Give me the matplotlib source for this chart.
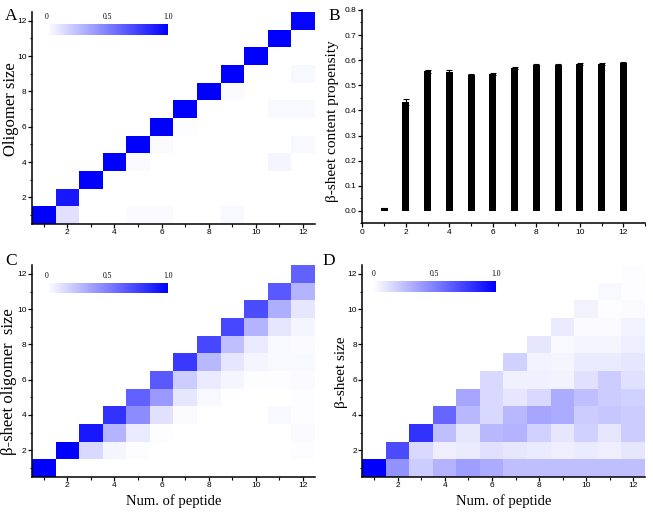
import numpy as np
import matplotlib
matplotlib.use("Agg")
import matplotlib.pyplot as plt
from matplotlib.colors import LinearSegmentedColormap
from matplotlib.ticker import MultipleLocator

# peptide counts (x) and sizes (y) for the heat maps
peptides = list(range(1, 13))
sizes = list(range(1, 13))

# rows: size 1..12, columns: num. of peptide 1..12
oligomer = [
    [1.00, 0.12, 0, 0, 0.02, 0.02, 0, 0, 0.03, 0, 0, 0],
    [0, 0.90, 0, 0, 0, 0, 0, 0, 0, 0, 0, 0],
    [0, 0, 1.00, 0, 0, 0, 0, 0, 0, 0, 0, 0],
    [0, 0, 0, 1.00, 0.02, 0, 0, 0, 0, 0, 0.04, 0],
    [0, 0, 0, 0, 1.00, 0.02, 0, 0, 0, 0, 0, 0.03],
    [0, 0, 0, 0, 0, 1.00, 0.01, 0, 0, 0, 0, 0],
    [0, 0, 0, 0, 0, 0, 1.00, 0, 0, 0, 0.03, 0.03],
    [0, 0, 0, 0, 0, 0, 0, 1.00, 0.02, 0, 0, 0],
    [0, 0, 0, 0, 0, 0, 0, 0, 1.00, 0, 0, 0.03],
    [0, 0, 0, 0, 0, 0, 0, 0, 0, 1.00, 0, 0],
    [0, 0, 0, 0, 0, 0, 0, 0, 0, 0, 1.00, 0],
    [0, 0, 0, 0, 0, 0, 0, 0, 0, 0, 0, 0.98],
]

sheet_oligomer = [
    [1.00, 0, 0, 0, 0, 0, 0, 0, 0, 0, 0, 0],
    [0, 1.00, 0.15, 0.04, 0.01, 0, 0, 0, 0, 0, 0, 0.01],
    [0, 0, 0.90, 0.30, 0.08, 0.01, 0, 0, 0, 0, 0, 0.02],
    [0, 0, 0, 0.80, 0.45, 0.12, 0.02, 0, 0, 0, 0.03, 0.01],
    [0, 0, 0, 0, 0.62, 0.40, 0.10, 0.03, 0, 0, 0, 0.01],
    [0, 0, 0, 0, 0, 0.65, 0.20, 0.08, 0.04, 0.01, 0.01, 0.02],
    [0, 0, 0, 0, 0, 0, 0.78, 0.28, 0.10, 0.04, 0.03, 0.03],
    [0, 0, 0, 0, 0, 0, 0, 0.72, 0.25, 0.08, 0.03, 0.02],
    [0, 0, 0, 0, 0, 0, 0, 0, 0.72, 0.30, 0.10, 0.04],
    [0, 0, 0, 0, 0, 0, 0, 0, 0, 0.70, 0.32, 0.10],
    [0, 0, 0, 0, 0, 0, 0, 0, 0, 0, 0.65, 0.30],
    [0, 0, 0, 0, 0, 0, 0, 0, 0, 0, 0, 0.62],
]

sheet_size = [
    [1.00, 0.42, 0.20, 0.30, 0.38, 0.33, 0.25, 0.25, 0.25, 0.25, 0.25, 0.25],
    [0, 0.70, 0.15, 0.07, 0.08, 0.12, 0.10, 0.08, 0.07, 0.08, 0.07, 0.10],
    [0, 0, 0.80, 0.25, 0.10, 0.28, 0.30, 0.18, 0.10, 0.18, 0.10, 0.20],
    [0, 0, 0, 0.60, 0.28, 0.15, 0.28, 0.35, 0.33, 0.20, 0.22, 0.20],
    [0, 0, 0, 0, 0.35, 0.15, 0.10, 0.15, 0.33, 0.25, 0.20, 0.18],
    [0, 0, 0, 0, 0, 0.15, 0.06, 0.06, 0.05, 0.12, 0.20, 0.12],
    [0, 0, 0, 0, 0, 0, 0.18, 0.05, 0.04, 0.08, 0.08, 0.10],
    [0, 0, 0, 0, 0, 0, 0, 0.10, 0.03, 0.04, 0.04, 0.07],
    [0, 0, 0, 0, 0, 0, 0, 0, 0.08, 0.02, 0.02, 0.05],
    [0, 0, 0, 0, 0, 0, 0, 0, 0, 0.05, 0.01, 0.02],
    [0, 0, 0, 0, 0, 0, 0, 0, 0, 0, 0.03, 0.01],
    [0, 0, 0, 0, 0, 0, 0, 0, 0, 0, 0, 0.01],
]

# panel B
bar_x = list(range(1, 13))
propensity = [0.010, 0.435, 0.555, 0.553, 0.540, 0.545, 0.570, 0.580, 0.581, 0.583, 0.585, 0.588]
prop_err = [0.002, 0.012, 0.005, 0.008, 0.005, 0.005, 0.004, 0.004, 0.004, 0.004, 0.003, 0.003]

serif = "Liberation Serif"
sans = "Liberation Sans"
blues = LinearSegmentedColormap.from_list("wb", ["#ffffff", "#0000ff"])

W, H = 653, 522
fig = plt.figure(figsize=(W / 100, H / 100), dpi=100)


def style_axes(ax):
    for s in ["top", "right"]:
        ax.spines[s].set_visible(False)
    for s in ["left", "bottom"]:
        ax.spines[s].set_linewidth(1.1)
    ax.tick_params(which="major", direction="out", length=3, width=0.9, labelsize=6, pad=1)
    ax.tick_params(which="minor", direction="out", length=1.8, width=0.8)
    for lab in ax.get_xticklabels() + ax.get_yticklabels():
        lab.set_fontfamily(sans)


def letter(x, y, s):
    # x, y in pixels from top-left, y is the baseline
    fig.text(x / W, 1 - y / H, s, fontfamily=serif, fontsize=12.5, ha="left", va="baseline")


def heatmap(rect, data, ylabel, ysize, ypos, xlabel, cb_rect):
    ax = fig.add_axes(rect)
    im = ax.imshow(np.array(data), cmap=blues, vmin=0, vmax=1, origin="lower",
                   extent=(peptides[0] - 0.5, peptides[-1] + 0.5, sizes[0] - 0.5, sizes[-1] + 0.5),
                   aspect="auto", interpolation="nearest")
    ax.set_xlim(0.5, 12.5)
    ax.set_ylim(0.5, 12.5)
    ax.xaxis.set_major_locator(MultipleLocator(2))
    ax.xaxis.set_minor_locator(MultipleLocator(1))
    ax.yaxis.set_major_locator(MultipleLocator(2))
    ax.yaxis.set_minor_locator(MultipleLocator(1))
    style_axes(ax)
    ax.set_ylabel(ylabel, fontfamily=serif, fontsize=ysize, va="center")
    ax.yaxis.set_label_coords(*ypos)
    if xlabel:
        ax.set_xlabel(xlabel, fontfamily=serif, fontsize=10.5, labelpad=4)
    cax = ax.inset_axes(cb_rect)
    cb = fig.colorbar(im, cax=cax, orientation="horizontal", ticks=[0, 0.5, 1.0])
    cb.outline.set_visible(False)
    cax.xaxis.set_ticks_position("top")
    cax.tick_params(length=0, labelsize=5.5, pad=2)
    cax.set_xticklabels(["0", "0.5", "1.0"], fontfamily=serif)
    return ax


heatmap([0.049, 0.571, 0.433, 0.406], oligomer, "Oligomer size", 12, (-0.075, 0.54), None,
        [0.052, 0.892, 0.43, 0.052])
heatmap([0.049, 0.087, 0.433, 0.405], sheet_oligomer, "β-sheet oligomer  size", 12,
        (-0.08, 0.45), "Num. of peptide", [0.052, 0.867, 0.43, 0.05])
heatmap([0.555, 0.087, 0.433, 0.405], sheet_size, "β-sheet size", 11, (-0.074, 0.495),
        "Num. of peptide", [0.038, 0.872, 0.434, 0.053])

# panel B bar chart
axb = fig.add_axes([0.555, 0.572, 0.433, 0.409])
axb.bar(bar_x, propensity, width=0.32, color="black")
axb.errorbar(bar_x, propensity, yerr=prop_err, fmt="none", ecolor="black",
             elinewidth=0.8, capsize=2.5, capthick=0.8)
axb.set_xlim(0, 13)
axb.set_ylim(-0.05, 0.8)
axb.xaxis.set_major_locator(MultipleLocator(2))
axb.xaxis.set_minor_locator(MultipleLocator(1))
axb.yaxis.set_major_locator(MultipleLocator(0.1))
axb.yaxis.set_minor_locator(MultipleLocator(0.05))
axb.yaxis.set_major_formatter(plt.FormatStrFormatter("%.1f"))
style_axes(axb)
axb.set_ylabel("β-sheet content propensity", fontfamily=serif, fontsize=11, va="center")
axb.yaxis.set_label_coords(-0.105, 0.48)

letter(5, 20, "A")
letter(328, 20, "B")
letter(5, 265, "C")
letter(322, 265, "D")

fig.savefig("out.png", dpi=100)
